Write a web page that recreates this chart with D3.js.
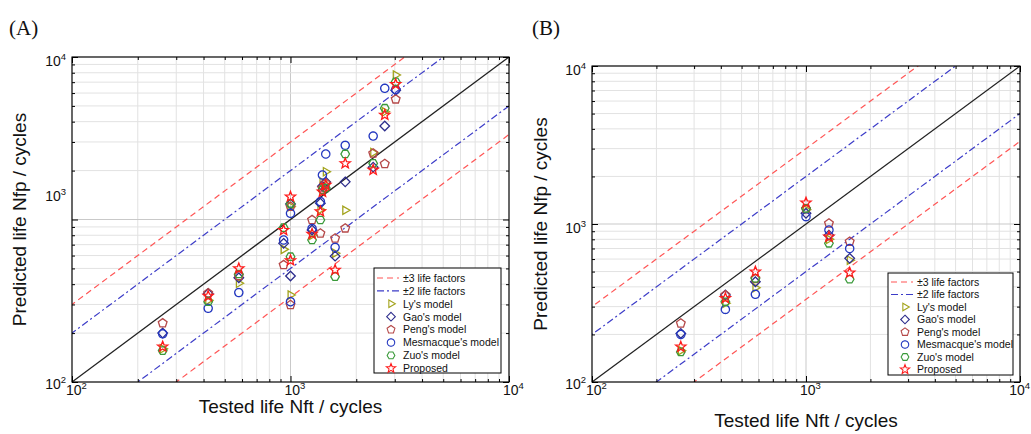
<!DOCTYPE html>
<html><head><meta charset="utf-8">
<script src="https://cdn.jsdelivr.net/npm/d3@7"></script>
<style>body{margin:0;background:#fff} svg{display:block}</style>
</head><body><svg id="c" width="1031" height="434"></svg>
<script>
// ---------------- DATA ----------------
const modelNames = ["Ly's model","Gao's model","Peng's model","Mesmacque's model","Zuo's model","Proposed"];
const factorLabels = ["\u00b13 life factors","\u00b12 life factors"];
const factorValues = [1, 2, 0.5, 3, 1/3];
const tickValuesMajor = [100, 1000, 10000];
const tickExponents = ["2","3","4"];

// Panel A: tested life and predictions of each model
const testedA = [260, 420, 580, 930, 1000, 1000, 1255, 1370, 1400, 1450, 1600, 1780, 2390, 2700, 3030];
const lyA     = [160, 318, 405, 655, 1200, 343, 800, 1150, 1700, 1968, 620, 1140, 2580, 4600, 7745];
const gaoA    = [200, 350, 438, 713, 1245, 449, 862, 1260, 1600, 1700, 595, 1705, 2100, 3760, 6236];
const pengA   = [230, 352, 450, 525, 1200, 298, 993, 822, 1560, 1668, 766, 883, 2553, 2200, 5493];
const mesA    = [198, 284, 355, 748, 1091, 312, 880, 1290, 1878, 2530, 674, 2860, 3262, 6418, 6300];
const zuoA    = [156, 312, 462, 890, 1254, 590, 748, 993, 1520, 1560, 445, 2530, 2215, 4840, 7040];
const propA   = [165, 338, 500, 860, 1380, 560, 815, 1120, 1480, 1630, 489, 2214, 2020, 4397, 6800];

// Panel B
const testedB = [260, 420, 580, 1000, 1280, 1600];
const lyB     = [158, 315, 395, 1230, 800, 590];
const gaoB    = [203, 355, 431, 1169, 850, 606];
const pengB   = [235, 355, 450, 1240, 1010, 773];
const mesB    = [200, 288, 359, 1113, 916, 700];
const zuoB    = [155, 322, 453, 1256, 755, 447];
const propB   = [167, 339, 499, 1364, 830, 492];

// ---------------- STYLE ----------------
const colors = ["#a3a31c", "#2c2c8c", "#b54848", "#2438c0", "#3a9a3a", "#ff1a1a"];

function poly(n, r, rot) {
  const p = [];
  for (let i = 0; i < n; i++) {
    const a = rot + i * 2 * Math.PI / n;
    p.push([r * Math.cos(a), r * Math.sin(a)]);
  }
  return "M" + p.map(d => d[0].toFixed(2) + "," + d[1].toFixed(2)).join("L") + "Z";
}
function star(r1, r2) {
  const p = [];
  for (let i = 0; i < 10; i++) {
    const r = i % 2 ? r2 : r1;
    const a = -Math.PI / 2 + i * Math.PI / 5;
    p.push([r * Math.cos(a), r * Math.sin(a)]);
  }
  return "M" + p.map(d => d[0].toFixed(2) + "," + d[1].toFixed(2)).join("L") + "Z";
}
const shapes = [
  poly(3, 4.8, 0),                 // triangle right
  poly(4, 4.8, -Math.PI / 2),      // diamond
  poly(5, 4.6, -Math.PI / 2),      // pentagon
  poly(40, 4.1, 0),                // circle
  poly(6, 4.3, 0),                 // hexagon
  star(5.4, 2.3)                   // star
];

const svg = d3.select("#c");
const defs = svg.append("defs");
const W = 1031;

const panels = [
  { key: "A", tested: testedA, preds: [lyA, gaoA, pengA, mesA, zuoA, propA],
    box: { l: 72, r: 509, t: 57, b: 382 }, label: "(A)", labelX: 9, labelY: 35,
    ytX: 26, xtY: 413, leg: { x: 374, y: 268, w: 127, h: 105, row0: 278, dy: 12.9 },
    yLabelShift: { 1000: -28 } },
  { key: "B", tested: testedB, preds: [lyB, gaoB, pengB, mesB, zuoB, propB],
    box: { l: 592, r: 1020, t: 66, b: 382 }, label: "(B)", labelX: 532, labelY: 35,
    ytX: 547, xtY: 427, leg: { x: 888, y: 273, w: 125, h: 102, row0: 282, dy: 12.5 },
    yLabelShift: {} }
];

panels.forEach(P => {
  const { l, r, t, b } = P.box;
  const x = d3.scaleLog().domain([100, 10000]).range([l, r]);
  const y = d3.scaleLog().domain([100, 10000]).range([b, t]);
  const g = svg.append("g");
  const allTicks = x.ticks();
  const minor = allTicks.filter(v => !tickValuesMajor.includes(v));

  defs.append("clipPath").attr("id", "clip" + P.key)
    .append("rect").attr("x", l).attr("y", t).attr("width", r - l).attr("height", b - t);

  // grid
  const grid = g.append("g");
  grid.selectAll(".vx").data(allTicks).join("line")
    .attr("x1", d => x(d)).attr("x2", d => x(d)).attr("y1", t).attr("y2", b)
    .attr("stroke", d => tickValuesMajor.includes(d) ? "#c9c9c9" : "#e2e2e2").attr("stroke-width", 1);
  grid.selectAll(".hy").data(allTicks).join("line")
    .attr("y1", d => y(d)).attr("y2", d => y(d)).attr("x1", l).attr("x2", r)
    .attr("stroke", d => tickValuesMajor.includes(d) ? "#c9c9c9" : "#e2e2e2").attr("stroke-width", 1);

  // factor lines
  const lg = g.append("g").attr("clip-path", "url(#clip" + P.key + ")");
  const lineStyle = k => {
    const m = Math.abs(Math.log(k) / Math.log(10));
    if (m < 0.01) return { c: "#222", w: 1.3, d: null };
    if (Math.abs(k - 2) < 0.01 || Math.abs(k - 0.5) < 0.01) return { c: "#3c3cc8", w: 1.2, d: "7,3,2,3" };
    return { c: "#ff5555", w: 1.2, d: "6,4" };
  };
  factorValues.forEach(k => {
    const s = lineStyle(k);
    const pts = [10, 100000].map(v => [x(v), y(v * k)]);
    lg.append("path").attr("d", d3.line()(pts)).attr("fill", "none")
      .attr("stroke", s.c).attr("stroke-width", s.w).attr("stroke-dasharray", s.d);
  });

  // markers
  const mg = g.append("g").attr("clip-path", "url(#clip" + P.key + ")");
  P.preds.forEach((arr, mi) => {
    mg.selectAll(null).data(arr.map((v, i) => [P.tested[i], v])).join("path")
      .attr("d", shapes[mi])
      .attr("transform", d => `translate(${x(d[0])},${y(d[1])})`)
      .attr("fill", "none").attr("stroke", colors[mi]).attr("stroke-width", 1.3);
  });

  // axes ticks (inward on all four sides)
  const mk = (axisFn, pos, vals, size) => {
    const a = axisFn.tickValues(vals).tickSize(-size).tickFormat("");
    const ag = g.append("g").attr("transform", pos).call(a);
    ag.select(".domain").remove();
    ag.selectAll("line").attr("stroke", "#000").attr("stroke-width", 1);
  };
  [[tickValuesMajor, 6], [minor, 3]].forEach(([vals, sz]) => {
    mk(d3.axisBottom(x), `translate(0,${b})`, vals, sz);
    mk(d3.axisTop(x), `translate(0,${t})`, vals, sz);
    mk(d3.axisLeft(y), `translate(${l},0)`, vals, sz);
    mk(d3.axisRight(y), `translate(${r},0)`, vals, sz);
  });
  g.append("rect").attr("x", l).attr("y", t).attr("width", r - l).attr("height", b - t)
    .attr("fill", "none").attr("stroke", "#000").attr("stroke-width", 1.1);

  // tick labels
  const font = "Liberation Sans, Arial, Helvetica, sans-serif";
  tickValuesMajor.forEach((v, i) => {
    const fits = x(v) - 6 + 21 <= W - 1;
    const tx = g.append("text").attr("x", fits ? x(v) - 6 : W - 1).attr("y", b + 13)
      .attr("text-anchor", fits ? "start" : "end")
      .attr("font-family", font).attr("font-size", 14).attr("fill", "#111");
    tx.append("tspan").text("10");
    tx.append("tspan").attr("dy", -6).attr("font-size", 9.5).text(tickExponents[i]);
    const shift = P.yLabelShift[v] || 0;
    const ty = g.append("text").attr("x", l - 6).attr("y", y(v) + (i === 0 ? 7 : 9) + shift)
      .attr("text-anchor", "end")
      .attr("font-family", font).attr("font-size", 14).attr("fill", "#111");
    ty.append("tspan").text("10");
    ty.append("tspan").attr("dy", -6).attr("font-size", 9.5).text(tickExponents[i]);
  });

  // axis titles
  g.append("text").attr("x", (l + r) / 2).attr("y", P.xtY).attr("text-anchor", "middle")
    .attr("font-family", font).attr("font-size", 19).attr("fill", "#111")
    .text("Tested life Nft / cycles");
  g.append("text").attr("transform", `translate(${P.ytX},${(t + b) / 2}) rotate(-90)`)
    .attr("text-anchor", "middle")
    .attr("font-family", font).attr("font-size", 19).attr("fill", "#111")
    .text("Predicted life Nfp / cycles");

  // panel label
  g.append("text").attr("x", P.labelX).attr("y", P.labelY)
    .attr("font-family", "Liberation Serif, Times New Roman, serif").attr("font-size", 21)
    .attr("fill", "#111").text(P.label);

  // legend
  const L = P.leg;
  const lgd = g.append("g");
  lgd.append("rect").attr("x", L.x).attr("y", L.y).attr("width", L.w).attr("height", L.h)
    .attr("fill", "#fff").attr("stroke", "#000").attr("stroke-width", 1);
  const entries = factorLabels.map((s, i) => ({ t: s, kind: "line", k: i === 0 ? 3 : 2 }))
    .concat(modelNames.map((s, i) => ({ t: s, kind: "mark", i })));
  entries.forEach((e, j) => {
    const cy = L.row0 + j * L.dy;
    if (e.kind === "line") {
      const s = lineStyle(e.k);
      lgd.append("line").attr("x1", L.x + 3).attr("x2", L.x + 25).attr("y1", cy).attr("y2", cy)
        .attr("stroke", s.c).attr("stroke-width", s.w).attr("stroke-dasharray", s.d);
    } else {
      lgd.append("path").attr("d", shapes[e.i]).attr("transform", `translate(${L.x + 17},${cy}) scale(0.9)`)
        .attr("fill", "none").attr("stroke", colors[e.i]).attr("stroke-width", 1.2);
    }
    lgd.append("text").attr("x", L.x + 29).attr("y", cy + 3.8)
      .attr("font-family", font).attr("font-size", 10.5).attr("fill", "#111").text(e.t);
  });
});
</script></body></html>
